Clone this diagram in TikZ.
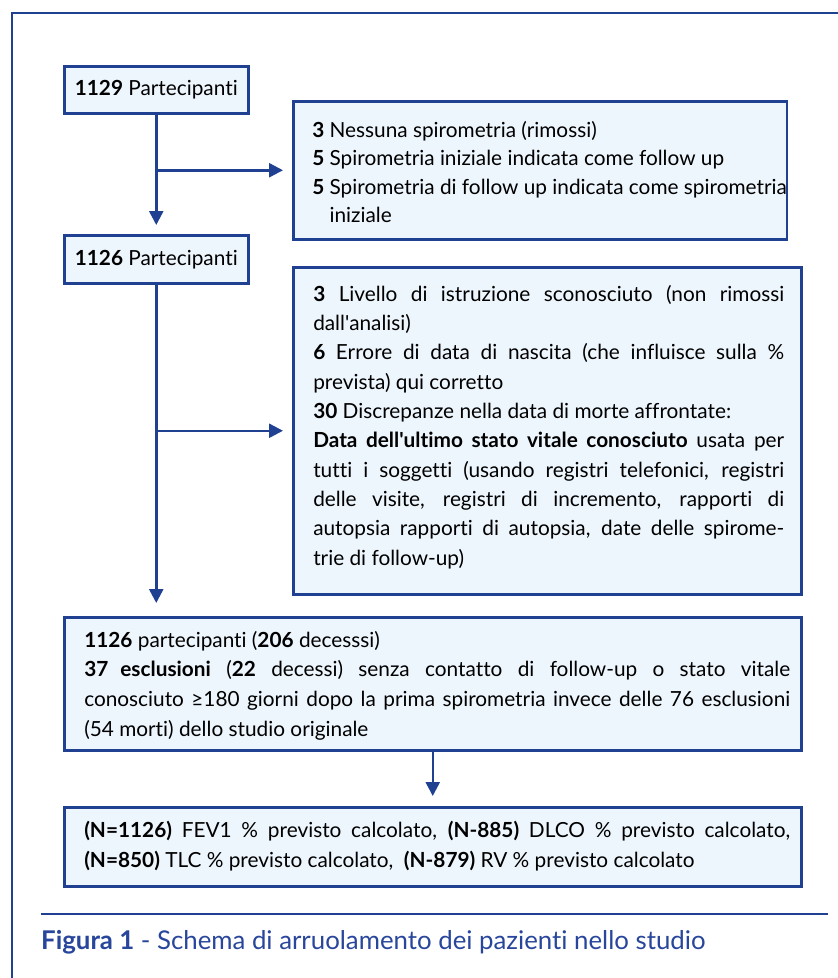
\documentclass[tikz,border=0pt]{standalone}
\usepackage{fontspec}
\setmainfont{Lato}[Ligatures={TeX,NoCommon}]
\usetikzlibrary{arrows.meta}
\definecolor{bdr}{RGB}{32,64,145}
\definecolor{bfill}{RGB}{238,246,253}
\definecolor{capc}{RGB}{40,70,155}
\newdimen\padL \newdimen\padR
\newcommand{\jline}[1]{\hbox to \linewidth{\hskip\padL #1\hskip\padR}}
\newcommand{\nline}[1]{\hbox{\hskip\padL #1}}
\newcommand{\apo}{\textquotesingle}
\newcommand{\txt}{\fontsize{20.8}{29}\selectfont}
\begin{document}
\begin{tikzpicture}[x=1pt,y=-1pt,
  flowbox/.style={draw=bdr, line width=2.5pt, fill=bfill, anchor=north west, inner sep=0pt},
  arr/.style={draw=bdr, line width=2.5pt, -{Triangle[length=14pt,width=14pt]}}]
\useasboundingbox (0,0) rectangle (838,978);
\fill[white] (0,0) rectangle (838,978);
\draw[bdr, line width=2.5pt] (12,978) -- (12,13) -- (838,13);

\node[flowbox, minimum width=184pt, minimum height=47pt] (b1) at (63,65)
  {\txt\textbf{1129} Partecipanti};

\node[flowbox] (b2) at (292,100) {\parbox[c][138pt][t]{508pt}{\fontsize{20.8}{28.5}\selectfont
\padL=19pt \padR=12pt
\vspace*{20pt}
\nline{\textbf{3} Nessuna spirometria (rimossi)}
\nline{\textbf{5} Spirometria iniziale indicata come follow up}
\nline{\textbf{5} Spirometria di follow up indicata come spirometria}
\nline{\hphantom{\textbf{5} }iniziale}}};

\node[flowbox, minimum width=184pt, minimum height=48pt] (b3) at (63,234)
  {\txt\textbf{1126} Partecipanti};

\node[flowbox] (b4) at (292,266) {\parbox[c][327pt][t]{508pt}{\fontsize{20.8}{29.3}\selectfont
\padL=20pt \padR=17pt
\vspace*{18pt}
\jline{\textbf{3} Livello di istruzione sconosciuto (non rimossi}
\nline{dall\apo analisi)}
\jline{\textbf{6} Errore di data di nascita (che influisce sulla \%}
\nline{prevista) qui corretto}
\nline{\textbf{30} Discrepanze nella data di morte affrontate:}
\jline{\textbf{Data dell\apo ultimo stato vitale conosciuto} usata per}
\jline{tutti i soggetti (usando registri telefonici, registri}
\jline{delle visite, registri di incremento, rapporti di}
\jline{autopsia rapporti di autopsia, date delle spirome-}
\nline{trie di follow-up)}}};

\node[flowbox] (b5) at (63,616) {\parbox[c][133pt][t]{737pt}{\fontsize{20.8}{29.6}\selectfont
\padL=20pt \padR=11pt
\vspace*{14pt}
\nline{\textbf{1126} partecipanti (\textbf{206} decesssi)}
\jline{\textbf{37}\hspace{12pt}\textbf{esclusioni} (\textbf{22} decessi) senza contatto di follow-up o stato vitale}
\jline{conosciuto ≥180 giorni dopo la prima spirometria invece delle 76 esclusioni}
\nline{(54 morti) dello studio originale}}};

\node[flowbox] (b6) at (63,806) {\parbox[c][79pt][t]{737pt}{\fontsize{20.8}{29.5}\selectfont
\padL=20pt \padR=11pt
\vspace*{14pt}
\jline{\textbf{(N=1126)} FEV1 \% previsto calcolato, \textbf{(N-885)} DLCO \% previsto calcolato,}
\nline{\textbf{(N=850)} TLC \% previsto calcolato,\ \ \textbf{(N-879)} RV \% previsto calcolato}}};

\coordinate (j1) at (b1.south |- b2.west);
\coordinate (j2) at (b3.south |- b4.west);
\coordinate (t3) at (b3.south |- b5.north);

\draw[arr, shorten >=9pt] (b1.south) -- (b3.north);
\draw[arr, shorten >=9pt] (j1) -- (b2.west);
\draw[arr, shorten >=13pt] (b3.south) -- (t3);
\draw[arr, shorten >=9pt] (j2) -- (b4.west);
\draw[arr, shorten >=10pt] (b5.south) -- (b6.north);

\draw[bdr, line width=1.2pt] (41,914) -- (828,914);
\node[anchor=base west, inner sep=0pt, text=capc] (cap) at (41,949)
  {\fontsize{25.8}{30}\selectfont\textbf{Figura 1} - Schema di arruolamento dei pazienti nello studio};
\end{tikzpicture}
\end{document}
